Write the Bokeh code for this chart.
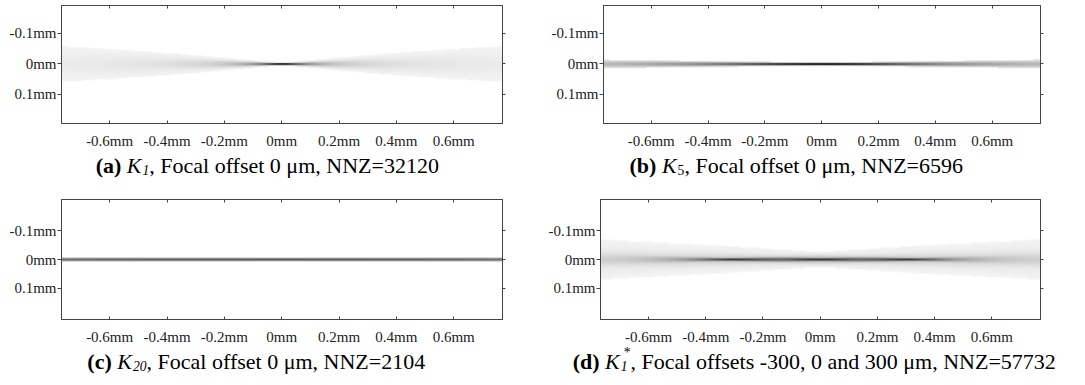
import numpy as np
from bokeh.plotting import figure
from bokeh.models import Range1d, FixedTicker, CustomJSTickFormatter, LinearAxis
from bokeh.layouts import column, row
from bokeh.core.properties import value
from bokeh.embed import file_html
from bokeh.resources import INLINE

# ---------------- data ----------------
x_ticks = [-0.6, -0.4, -0.2, 0.0, 0.2, 0.4, 0.6]
y_ticks = [-0.1, 0.0, 0.1]

# beam-kernel parameters (mm) for each panel
foci_a = [0.0];             waist_a = 0.003; rayleigh_a = 0.05; threshold_a = 2e-4; gain_a = 1.0
foci_b = [0.0];             waist_b = 0.004; rayleigh_b = 0.25; threshold_b = 1e-2; gain_b = 1.0
foci_c = [0.0];             waist_c = 0.005; rayleigh_c = 1.2;  threshold_c = 5e-2; gain_c = 0.75
foci_d = [-0.3, 0.0, 0.3];  waist_d = 0.004; rayleigh_d = 0.08; threshold_d = 2e-4; gain_d = 1.0

# captions: (bold tag, italic symbol, subscript, subscript style, superscript, rest)
caption_a = ("(a)", "K", "1", "italic", "", ", Focal offset 0 μm, NNZ=32120")
caption_b = ("(b)", "K", "5", "normal", "", ", Focal offset 0 μm, NNZ=6596")
caption_c = ("(c)", "K", "20", "italic", "", ", Focal offset 0 μm, NNZ=2104")
caption_d = ("(d)", "K", "1", "italic", "*", ", Focal offsets -300, 0 and 300 μm, NNZ=57732")

FONT = "Liberation Serif"
CAP_SIZE = 22
TICK_SIZE = 15
FLOOR = 0.04
GAMMA = 0.6
AX = "#444444"
TOTAL_W = 1062

# approximate Times metrics (1/1000 em) for caption layout
REG = {' ': 250, ',': 250, '.': 250, '-': 333, '=': 564, 'F': 556, 'N': 722, 'Z': 611,
       'a': 444, 'c': 444, 'd': 500, 'e': 444, 'f': 333, 'l': 278, 'm': 778, 'n': 500,
       'o': 500, 's': 389, 't': 278, 'μ': 540}
BOLD = {'(': 333, ')': 333, 'a': 500, 'b': 556, 'c': 444, 'd': 556}
ITAL = {'K': 667}


def text_w(s, table, size):
    return sum(table.get(ch, 500) for ch in s) * size / 1000.0


def beam_image(foci, waist, rayleigh, threshold, gain, x0, x1, yh, nx=700, ny=300):
    xs = np.linspace(x0, x1, nx)
    ys = np.linspace(-yh, yh, ny)
    Z, Y = np.meshgrid(xs, ys)
    inten = np.zeros_like(Z)
    for f in foci:
        w = waist * np.sqrt(1 + ((Z - f) / rayleigh) ** 2)
        inten += (waist / w) ** 2 * np.exp(-2 * Y ** 2 / w ** 2)
    inten /= inten.max()
    on = inten > threshold
    dark = np.where(on, FLOOR + (1 - FLOOR) * gain * inten ** GAMMA, 0.0)
    g = np.clip(np.round(255 * (1 - dark)), 0, 255).astype(np.uint32)
    a = np.where(on, 255, 0).astype(np.uint32)
    return (a << 24) | (g << 16) | (g << 8) | g


def style_axis(ax, tick_in, tick_out, standoff, labels=True):
    ax.major_tick_in = tick_in
    ax.major_tick_out = tick_out
    ax.minor_tick_in = 0
    ax.minor_tick_out = 0
    ax.minor_tick_line_color = None
    ax.axis_line_color = AX
    ax.major_tick_line_color = AX
    ax.major_label_standoff = standoff
    ax.major_label_text_font = FONT
    if labels:
        ax.major_label_text_font_size = f"{TICK_SIZE}px"
        ax.major_label_text_color = "#222222"
    else:
        ax.major_label_text_font_size = "1px"
        ax.major_label_text_color = None


def panel(params, border_left, frame_w, border_right, border_top, frame_h, y_top, y_bottom):
    foci, waist, rayleigh, thr, gain = params
    x0, x1 = -0.768, 0.770
    p = figure(frame_width=frame_w, frame_height=frame_h,
               min_border_left=border_left, min_border_right=border_right,
               min_border_top=border_top, min_border_bottom=24,
               x_range=Range1d(x0, x1), y_range=Range1d(y_bottom, y_top),
               output_backend="svg", toolbar_location=None, title=None,
               background_fill_color="white", border_fill_color="white")
    p.grid.visible = False
    p.outline_line_color = AX
    p.outline_line_width = 1

    yh = max(abs(y_top), abs(y_bottom))
    img = beam_image(foci, waist, rayleigh, thr, gain, x0, x1, yh)
    p.image_rgba(image=[img], x=(x0 + x1) / 2, y=0, dw=x1 - x0, dh=2 * yh, anchor="center")

    fmt = CustomJSTickFormatter(code="return (Math.round(tick*10)/10) + 'mm';")
    for ax in p.xaxis:
        ax.ticker = FixedTicker(ticks=x_ticks)
        ax.formatter = fmt
        style_axis(ax, 3, 0, 9)
    for ax in p.yaxis:
        ax.ticker = FixedTicker(ticks=y_ticks)
        ax.formatter = fmt
        style_axis(ax, 0, 4, 1)

    top = LinearAxis(ticker=FixedTicker(ticks=x_ticks))
    style_axis(top, 3, 0, 0, labels=False)
    p.add_layout(top, "above")
    right = LinearAxis(ticker=FixedTicker(ticks=y_ticks))
    style_axis(right, 0, 3, 0, labels=False)
    p.add_layout(right, "right")
    return p


def caption_strip(captions, centers, height, base, shift):
    c = figure(width=TOTAL_W, height=height, x_range=Range1d(0, TOTAL_W),
               y_range=Range1d(height, 0), x_axis_type=None, y_axis_type=None,
               min_border=0, min_border_left=0, min_border_right=0, min_border_top=0,
               min_border_bottom=0, title=None,
               output_backend="svg", toolbar_location=None, outline_line_color=None,
               background_fill_color=None, border_fill_color=None)
    c.styles = {"margin-top": f"-{shift}px"}
    c.grid.visible = False
    common = dict(text_font=value(FONT), text_color="black", text_baseline="alphabetic",
                  text_align="left")
    S = CAP_SIZE
    small = S * 0.62
    for caption, center in zip(captions, centers):
        tag, sym, sub, sub_style, sup, rest = caption
        w_tag = text_w(tag, BOLD, S)
        w_sp = text_w(" ", REG, S)
        w_sym = text_w(sym, ITAL, S)
        w_sub = len(sub) * 0.5 * small
        w_sup = len(sup) * 0.5 * small
        sup_start = 0.45 * w_sub
        scripts_w = max(w_sub, sup_start + w_sup if sup else 0)
        w_rest = text_w(rest, REG, S)
        total = w_tag + w_sp + w_sym + scripts_w + 1 + w_rest
        xo = center - total / 2
        c.text(x=[xo], y=[base], text=[tag], text_font_size=value(f"{S}px"),
               text_font_style="bold", **common)
        xo += w_tag + w_sp
        c.text(x=[xo], y=[base], text=[sym], text_font_size=value(f"{S}px"),
               text_font_style="italic", **common)
        xo += w_sym
        c.text(x=[xo + 1], y=[base + 4], text=[sub], text_font_size=value(f"{small:.1f}px"),
               text_font_style=sub_style, **common)
        if sup:
            c.text(x=[xo + sup_start + 1], y=[base - 9], text=[sup],
                   text_font_size=value(f"{small:.1f}px"), text_font_style="normal", **common)
        xo += scripts_w + 1
        c.text(x=[xo], y=[base], text=[rest], text_font_size=value(f"{S}px"),
               text_font_style="normal", **common)
    return c


pa = panel((foci_a, waist_a, rayleigh_a, threshold_a, gain_a),
           border_left=61, frame_w=441, border_right=37, border_top=5, frame_h=118,
           y_top=-0.19, y_bottom=0.195)
pb = panel((foci_b, waist_b, rayleigh_b, threshold_b, gain_b),
           border_left=64, frame_w=437, border_right=20, border_top=5, frame_h=118,
           y_top=-0.19, y_bottom=0.195)
pc = panel((foci_c, waist_c, rayleigh_c, threshold_c, gain_c),
           border_left=61, frame_w=441, border_right=37, border_top=1, frame_h=120,
           y_top=-0.207, y_bottom=0.207)
pd_ = panel((foci_d, waist_d, rayleigh_d, threshold_d, gain_d),
            border_left=61, frame_w=440, border_right=20, border_top=1, frame_h=120,
            y_top=-0.207, y_bottom=0.207)

cap1 = caption_strip([caption_a, caption_b], [267, 796], height=57, base=24, shift=10)
cap2 = caption_strip([caption_c, caption_d], [256, 814], height=38, base=24, shift=10)

layout = column(row(pa, pb, spacing=0), cap1, row(pc, pd_, spacing=0), cap2, spacing=0)
open("out.html", "w").write(file_html(layout, INLINE))
